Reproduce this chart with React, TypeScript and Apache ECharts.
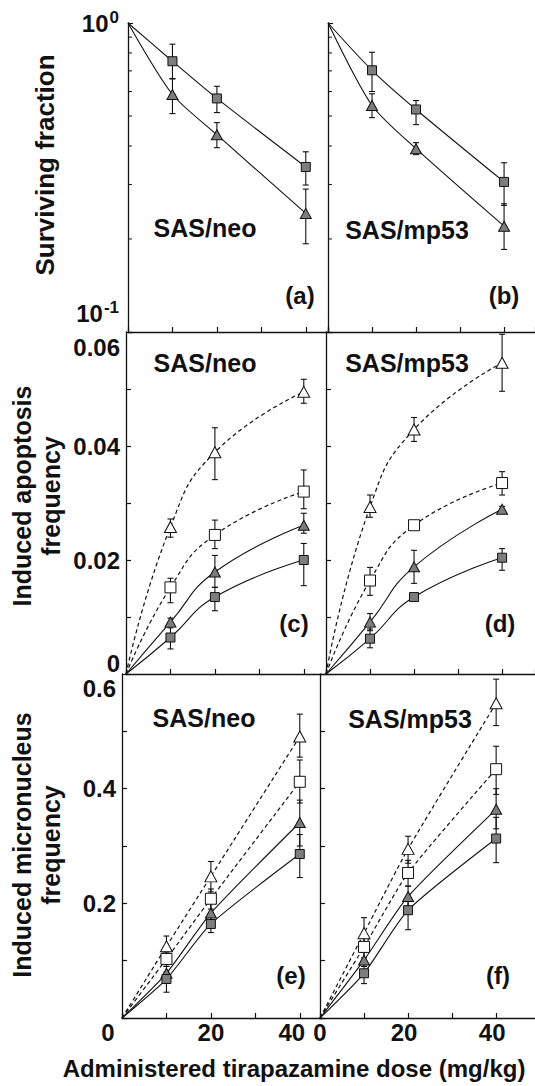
import React, { useEffect, useRef } from "react";
import * as echarts from "echarts";

const doses = [10, 20, 40];
const xTickLabels = ["0", "20", "40"];
const logMinorTicks = [0.2, 0.3, 0.4, 0.5, 0.6, 0.7, 0.8, 0.9];

// (a) SAS/neo surviving fraction
const survNeoSq = [0.752, 0.57, 0.342];
const survNeoSqLo = [0.66, 0.513, 0.299];
const survNeoSqHi = [0.854, 0.624, 0.383];
const survNeoTri = [0.587, 0.435, 0.242];
const survNeoTriLo = [0.509, 0.395, 0.193];
const survNeoTriHi = [0.66, 0.476, 0.29];
// (b) SAS/mp53 surviving fraction
const survMpSq = [0.703, 0.525, 0.306];
const survMpSqLo = [0.6, 0.469, 0.257];
const survMpSqHi = [0.804, 0.561, 0.353];
const survMpTri = [0.541, 0.392, 0.22];
const survMpTriLo = [0.494, 0.375, 0.185];
const survMpTriHi = [0.59, 0.41, 0.26];

// (c) SAS/neo apoptosis
const apoNeoOTri = [0.0258, 0.0389, 0.0495];
const apoNeoOTriLo = [0.024, 0.0341, 0.0475];
const apoNeoOTriHi = [0.0272, 0.0432, 0.0517];
const apoNeoOSq = [0.0152, 0.0244, 0.032];
const apoNeoOSqLo = [0.0125, 0.022, 0.029];
const apoNeoOSqHi = [0.0168, 0.027, 0.0358];
const apoNeoFTri = [0.0091, 0.0179, 0.0261];
const apoNeoFTriLo = [0.0084, 0.0152, 0.0247];
const apoNeoFTriHi = [0.0098, 0.0208, 0.0282];
const apoNeoFSq = [0.0064, 0.0135, 0.02];
const apoNeoFSqLo = [0.0044, 0.0111, 0.0155];
const apoNeoFSqHi = [0.0081, 0.0152, 0.0229];
// (d) SAS/mp53 apoptosis
const apoMpOTri = [0.0293, 0.0429, 0.0546];
const apoMpOTriLo = [0.0275, 0.0408, 0.0496];
const apoMpOTriHi = [0.0314, 0.045, 0.0596];
const apoMpOSq = [0.0164, 0.0261, 0.0335];
const apoMpOSqLo = [0.0138, 0.0254, 0.0314];
const apoMpOSqHi = [0.0187, 0.0268, 0.0355];
const apoMpFTri = [0.0091, 0.0188, 0.0289];
const apoMpFTriLo = [0.0076, 0.0159, 0.0284];
const apoMpFTriHi = [0.0106, 0.0217, 0.0294];
const apoMpFSq = [0.0062, 0.0135, 0.0204];
const apoMpFSqLo = [0.0046, 0.0129, 0.0182];
const apoMpFSqHi = [0.0079, 0.0141, 0.022];

// (e) SAS/neo micronucleus
const micNeoOTri = [0.125, 0.247, 0.491];
const micNeoOTriLo = [0.11, 0.22, 0.455];
const micNeoOTriHi = [0.143, 0.273, 0.53];
const micNeoOSq = [0.103, 0.208, 0.412];
const micNeoOSqLo = [0.09, 0.19, 0.375];
const micNeoOSqHi = [0.115, 0.225, 0.45];
const micNeoFTri = [0.078, 0.183, 0.341];
const micNeoFTriLo = [0.066, 0.166, 0.3];
const micNeoFTriHi = [0.09, 0.2, 0.38];
const micNeoFSq = [0.068, 0.164, 0.286];
const micNeoFSqLo = [0.045, 0.149, 0.245];
const micNeoFSqHi = [0.08, 0.18, 0.32];
// (f) SAS/mp53 micronucleus
const micMpOTri = [0.148, 0.295, 0.549];
const micMpOTriLo = [0.125, 0.27, 0.51];
const micMpOTriHi = [0.175, 0.317, 0.591];
const micMpOSq = [0.124, 0.253, 0.434];
const micMpOSqLo = [0.105, 0.23, 0.39];
const micMpOSqHi = [0.14, 0.275, 0.474];
const micMpFTri = [0.101, 0.212, 0.364];
const micMpFTriLo = [0.09, 0.195, 0.33];
const micMpFTriHi = [0.115, 0.23, 0.4];
const micMpFSq = [0.078, 0.188, 0.313];
const micMpFSqLo = [0.06, 0.154, 0.271];
const micMpFSqHi = [0.09, 0.205, 0.35];

const FONT = '"Liberation Sans", Arial, Helvetica, sans-serif';
const INK = "#111";

type Kind = "fsq" | "ftri" | "osq" | "otri";
interface Grp { kind: Kind; v: number[]; lo: number[]; hi: number[] }

const panels: { origin: number; smooth: number | boolean; groups: Grp[] }[] = [
  { origin: 1, smooth: 0.25, groups: [
    { kind: "fsq", v: survNeoSq, lo: survNeoSqLo, hi: survNeoSqHi },
    { kind: "ftri", v: survNeoTri, lo: survNeoTriLo, hi: survNeoTriHi },
  ] },
  { origin: 1, smooth: 0.25, groups: [
    { kind: "fsq", v: survMpSq, lo: survMpSqLo, hi: survMpSqHi },
    { kind: "ftri", v: survMpTri, lo: survMpTriLo, hi: survMpTriHi },
  ] },
  { origin: 0, smooth: 0.5, groups: [
    { kind: "otri", v: apoNeoOTri, lo: apoNeoOTriLo, hi: apoNeoOTriHi },
    { kind: "osq", v: apoNeoOSq, lo: apoNeoOSqLo, hi: apoNeoOSqHi },
    { kind: "ftri", v: apoNeoFTri, lo: apoNeoFTriLo, hi: apoNeoFTriHi },
    { kind: "fsq", v: apoNeoFSq, lo: apoNeoFSqLo, hi: apoNeoFSqHi },
  ] },
  { origin: 0, smooth: 0.5, groups: [
    { kind: "otri", v: apoMpOTri, lo: apoMpOTriLo, hi: apoMpOTriHi },
    { kind: "osq", v: apoMpOSq, lo: apoMpOSqLo, hi: apoMpOSqHi },
    { kind: "ftri", v: apoMpFTri, lo: apoMpFTriLo, hi: apoMpFTriHi },
    { kind: "fsq", v: apoMpFSq, lo: apoMpFSqLo, hi: apoMpFSqHi },
  ] },
  { origin: 0, smooth: 0.2, groups: [
    { kind: "otri", v: micNeoOTri, lo: micNeoOTriLo, hi: micNeoOTriHi },
    { kind: "osq", v: micNeoOSq, lo: micNeoOSqLo, hi: micNeoOSqHi },
    { kind: "ftri", v: micNeoFTri, lo: micNeoFTriLo, hi: micNeoFTriHi },
    { kind: "fsq", v: micNeoFSq, lo: micNeoFSqLo, hi: micNeoFSqHi },
  ] },
  { origin: 0, smooth: 0.2, groups: [
    { kind: "otri", v: micMpOTri, lo: micMpOTriLo, hi: micMpOTriHi },
    { kind: "osq", v: micMpOSq, lo: micMpOSqLo, hi: micMpOSqHi },
    { kind: "ftri", v: micMpFTri, lo: micMpFTriLo, hi: micMpFTriHi },
    { kind: "fsq", v: micMpFSq, lo: micMpFSqLo, hi: micMpFSqHi },
  ] },
];

// layout (per row, to follow the slight tilt of the scan)
const rows = [
  { top: 23, h: 309, L: 128, R: 328 },
  { top: 332, h: 342, L: 126, R: 326 },
  { top: 674, h: 344, L: 122, R: 320 },
];
const PANEL_W = 200;
const XMAX_LEFT = 45;

const labelBase = { fontFamily: FONT, fontWeight: "bold" as const, fontSize: 24, color: INK };

function errRender(_params: any, api: any) {
  const x = api.value(0);
  const p1 = api.coord([x, api.value(1)]);
  const p2 = api.coord([x, api.value(2)]);
  const w = 3;
  const st = { stroke: INK, lineWidth: 1.1 };
  return {
    type: "group",
    children: [
      { type: "line", shape: { x1: p1[0], y1: p1[1], x2: p2[0], y2: p2[1] }, style: st },
      { type: "line", shape: { x1: p1[0] - w, y1: p1[1], x2: p1[0] + w, y2: p1[1] }, style: st },
      { type: "line", shape: { x1: p2[0] - w, y1: p2[1], x2: p2[0] + w, y2: p2[1] }, style: st },
    ],
  };
}

function minorTickRender(_params: any, api: any) {
  const p = api.coord([0, api.value(1)]);
  return {
    type: "line",
    shape: { x1: p[0], y1: p[1], x2: p[0] + 4, y2: p[1] },
    style: { stroke: INK, lineWidth: 1 },
  };
}

function symbolFor(kind: Kind) {
  if (kind === "osq") return { symbol: "rect", symbolSize: 11 };
  if (kind === "fsq") return { symbol: "rect", symbolSize: 9 };
  if (kind === "otri") return { symbol: "triangle", symbolSize: [12, 11] };
  return { symbol: "triangle", symbolSize: [11, 10] };
}

function buildOption() {
  const grid: any[] = [];
  const xAxis: any[] = [];
  const yAxis: any[] = [];
  const series: any[] = [];

  for (let i = 0; i < 6; i++) {
    const r = rows[Math.floor(i / 2)];
    const isLeft = i % 2 === 0;
    const row = Math.floor(i / 2);
    const left = isLeft ? r.L : r.R;
    const width = isLeft ? PANEL_W : 535 - r.R + 2;
    const xmax = isLeft ? XMAX_LEFT : (width * XMAX_LEFT) / PANEL_W;
    grid.push({ left, top: r.top, width, height: r.h, containLabel: false });

    const bottom = row === 2;
    xAxis.push({
      gridIndex: i,
      type: "value",
      min: 0,
      max: xmax,
      interval: 10,
      splitLine: { show: false },
      axisLine: { show: true, onZero: false, lineStyle: { color: INK, width: 1.3 } },
      axisTick: { show: true, inside: true, length: 5, lineStyle: { color: INK, width: 1.2 } },
      axisLabel: {
        show: bottom,
        margin: 2,
        showMaxLabel: false,
        formatter: (v: number) => {
          const idx = xTickLabels.indexOf(String(Math.round(v)));
          if (Math.abs(v - Math.round(v)) > 1e-6 || idx < 0) return "";
          const t = xTickLabels[idx];
          if (isLeft && t === "0") return "{l0|0}";
          if (isLeft && t === "40") return "{l40|40}";
          if (!isLeft && t !== "0") return "{r|" + t + "}";
          return "{t|" + t + "}";
        },
        rich: {
          t: { ...labelBase, lineHeight: 24 },
          l0: { ...labelBase, lineHeight: 24, padding: [0, 28, 0, 0] },
          l40: { ...labelBase, lineHeight: 24, padding: [0, 16, 0, 0] },
          r: { ...labelBase, lineHeight: 24, padding: [0, 8, 0, 0] },
        },
      },
    });

    const yCommon = {
      gridIndex: i,
      splitLine: { show: false },
      axisLine: { show: true, onZero: false, lineStyle: { color: INK, width: 1.3 } },
      axisTick: { show: true, inside: true, length: 5, lineStyle: { color: INK, width: 1.2 } },
    };
    if (row === 0) {
      yAxis.push({
        ...yCommon,
        type: "log",
        logBase: 10,
        min: 0.1,
        max: 1,
        axisLabel: {
          show: isLeft,
          margin: 9,
          formatter: (v: number) => {
            if (Math.abs(v - 1) < 1e-9) return "{n|10}{s|0}";
            if (Math.abs(v - 0.1) < 1e-9) return "{n|10}{s|-1}\n{g| }";
            return "";
          },
          rich: {
            n: { ...labelBase, lineHeight: 28 },
            s: { ...labelBase, fontSize: 17, lineHeight: 17, verticalAlign: "top", padding: [0, 0, 0, 1] },
            g: { fontSize: 8, lineHeight: 38 },
          },
        },
      });
    } else if (row === 1) {
      yAxis.push({
        ...yCommon,
        type: "value",
        min: 0,
        max: 0.06,
        interval: 0.01,
        axisLabel: {
          show: isLeft,
          margin: 6,
          formatter: (v: number) => {
            const k = Math.round(v * 100);
            if (k % 2 !== 0) return "";
            if (k === 0) return "{t|0}\n{g2| }";
            if (k === 6) return "{g1| }\n{t|0.06}";
            return "{t|" + (k / 100).toFixed(2) + "}";
          },
          rich: {
            t: { ...labelBase, lineHeight: 28 },
            g1: { fontSize: 8, lineHeight: 30 },
            g2: { fontSize: 8, lineHeight: 22 },
          },
        },
      });
    } else {
      yAxis.push({
        ...yCommon,
        type: "value",
        min: 0,
        max: 0.6,
        interval: 0.1,
        axisLabel: {
          show: isLeft,
          margin: 6,
          formatter: (v: number) => {
            const k = Math.round(v * 10);
            if (k % 2 !== 0 || k === 0) return "";
            if (k === 6) return "{g1| }\n{t|0.6}";
            return "{t|" + (k / 10).toFixed(1) + "}";
          },
          rich: {
            t: { ...labelBase, lineHeight: 28 },
            g1: { fontSize: 8, lineHeight: 28 },
          },
        },
      });
    }

    const p = panels[i];
    p.groups.forEach((g) => {
      const filled = g.kind === "fsq" || g.kind === "ftri";
      series.push({
        type: "custom",
        xAxisIndex: i,
        yAxisIndex: i,
        renderItem: errRender,
        encode: { x: 0, y: [1, 2] },
        data: doses.map((d, k) => [d, g.lo[k], g.hi[k]]),
        z: 3,
        silent: true,
      });
      series.push({
        type: "line",
        xAxisIndex: i,
        yAxisIndex: i,
        data: [{ value: [0, p.origin], symbol: "none" }, ...doses.map((d, k) => [d, g.v[k]])],
        ...symbolFor(g.kind),
        smooth: p.smooth,
        itemStyle: { color: filled ? "#7d7d7d" : "#ffffff", borderColor: INK, borderWidth: 1 },
        lineStyle: { color: INK, width: filled ? 1.1 : 1.2, type: filled ? "solid" : [4, 3] },
        z: 5,
        silent: true,
      });
    });
    if (row === 0) {
      series.push({
        type: "custom",
        xAxisIndex: i,
        yAxisIndex: i,
        renderItem: minorTickRender,
        encode: { x: 0, y: 1 },
        data: logMinorTicks.map((t) => [0, t]),
        z: 4,
        silent: true,
      });
    }
  }

  const txt = (text: string, x: number, y: number, extra: any = {}, rot = 0) => ({
    type: "text",
    x,
    y,
    rotation: rot,
    silent: true,
    style: {
      text,
      fill: INK,
      fontFamily: FONT,
      fontWeight: "bold",
      fontSize: 24,
      align: "center",
      verticalAlign: "middle",
      textAlign: "center",
      textVerticalAlign: "middle",
      ...extra,
    },
  });

  const graphic = [
    txt("SAS/neo", 205, 228, { fontSize: 25 }),
    txt("SAS/neo", 205, 363, { fontSize: 25 }),
    txt("SAS/neo", 204, 718, { fontSize: 25 }),
    txt("SAS/mp53", 407, 230, { fontSize: 25 }),
    txt("SAS/mp53", 407, 363, { fontSize: 25 }),
    txt("SAS/mp53", 410, 719, { fontSize: 25 }),
    txt("(a)", 300, 295),
    txt("(b)", 504, 295),
    txt("(c)", 294, 623),
    txt("(d)", 500, 623),
    txt("(e)", 291, 975),
    txt("(f)", 498, 975),
    txt("Surviving fraction", 45, 165, { fontSize: 26 }, Math.PI / 2),
    txt("Induced apoptosis\nfrequency", 36, 496, { fontSize: 25, lineHeight: 29 }, Math.PI / 2),
    txt("Induced micronucleus\nfrequency", 36, 845, { fontSize: 25, lineHeight: 29 }, Math.PI / 2),
    txt("Administered tirapazamine dose (mg/kg)", 294, 1068, { fontSize: 24 }),
  ];

  return {
    animation: false,
    backgroundColor: "#ffffff",
    grid,
    xAxis,
    yAxis,
    series,
    graphic,
  };
}

export default function App() {
  const ref = useRef<HTMLDivElement>(null);
  useEffect(() => {
    if (!ref.current) return;
    const chart = echarts.init(ref.current, undefined, { renderer: "svg" });
    chart.setOption(buildOption() as any);
    return () => chart.dispose();
  }, []);
  return (
    <div
      ref={ref}
      style={{ position: "absolute", left: 0, top: 0, width: 535, height: 1086, background: "#fff" }}
    />
  );
}
